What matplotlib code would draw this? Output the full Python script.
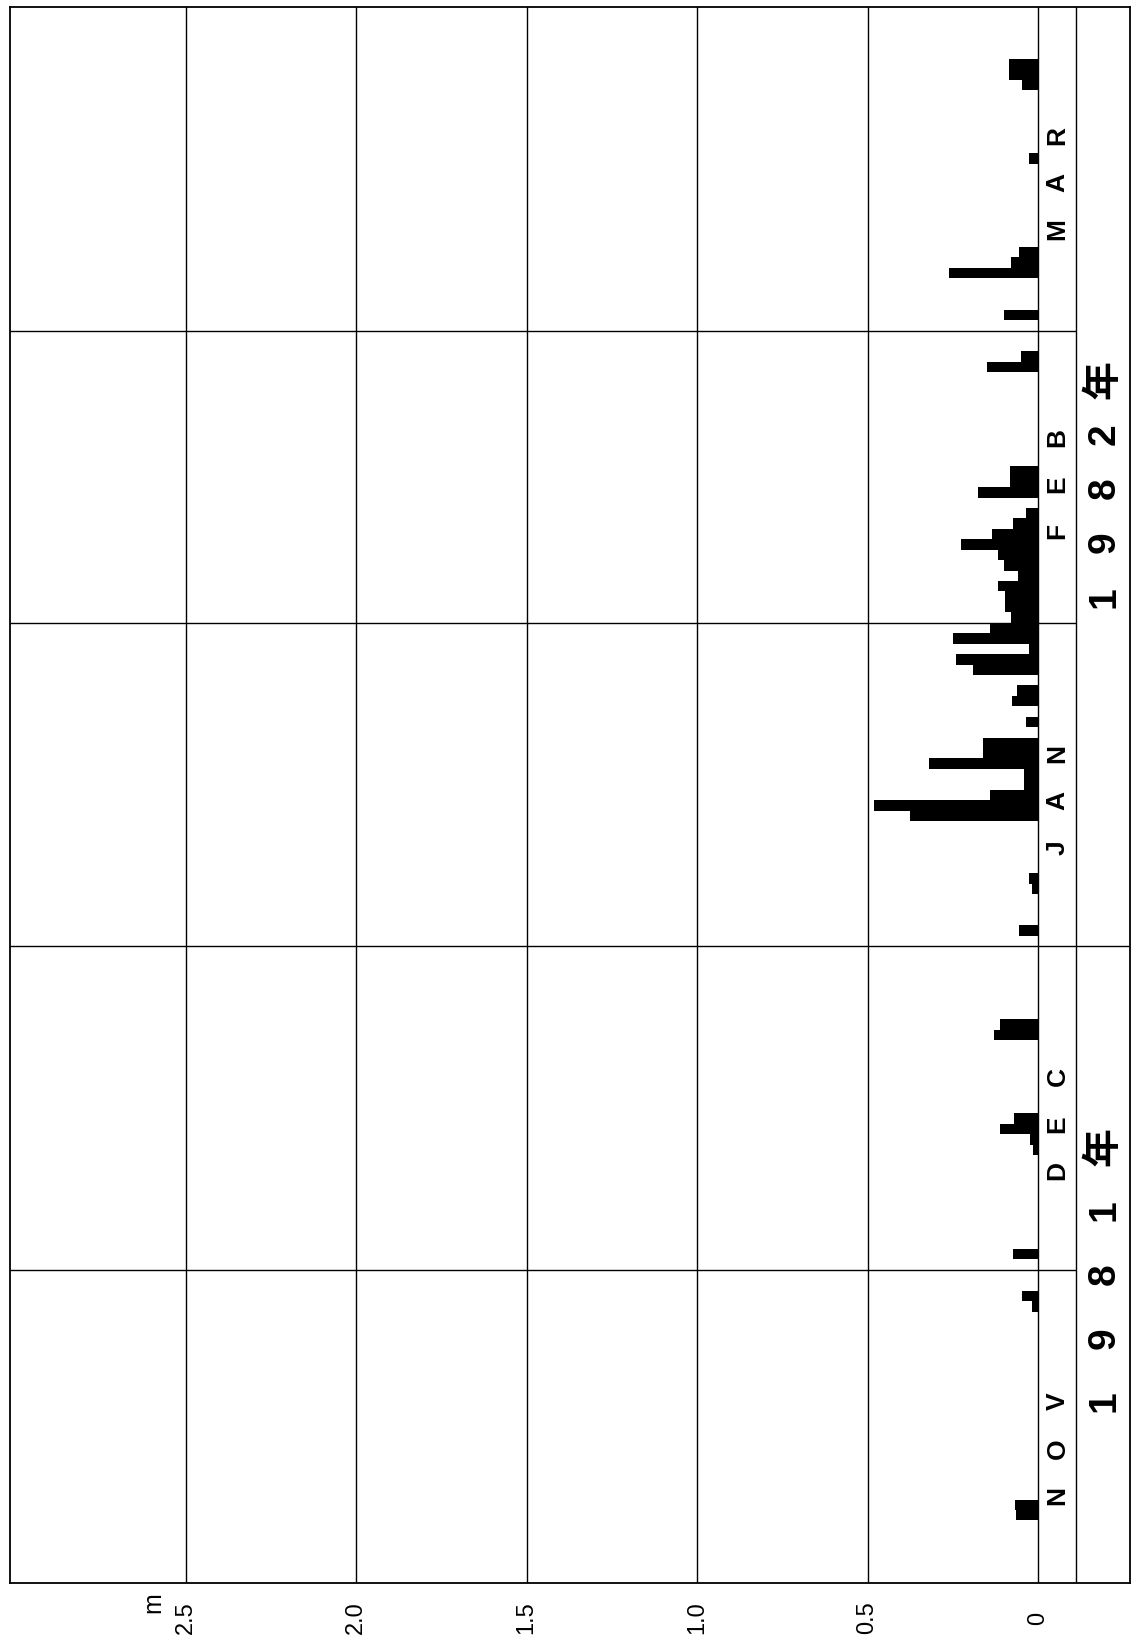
import matplotlib.pyplot as plt

plt.rcParams['font.family'] = ['Liberation Sans', 'Noto Sans CJK JP']

# month lengths, Nov 1981 .. Mar 1982
month_names = ['NOV', 'DEC', 'JAN', 'FEB', 'MAR']
month_len = [30, 31, 31, 28, 31]

# daily snowfall (m), day of month -> value
nov_days = [7, 8, 27, 28]
nov_snow = [0.065, 0.068, 0.017, 0.048]
dec_days = [2, 12, 13, 14, 15, 23, 24]
dec_snow = [0.072, 0.014, 0.024, 0.11, 0.07, 0.13, 0.11]
jan_days = [2, 6, 7, 13, 14, 15, 16, 17, 18, 19, 20, 22, 24, 25, 27, 28, 29, 30, 31]
jan_snow = [0.055, 0.017, 0.026, 0.375, 0.48, 0.14, 0.04, 0.04, 0.32, 0.16, 0.16,
            0.034, 0.075, 0.063, 0.19, 0.24, 0.025, 0.25, 0.14]
feb_days = [1, 2, 3, 4, 5, 6, 7, 8, 9, 10, 11, 13, 14, 15, 25, 26]
feb_snow = [0.078, 0.096, 0.096, 0.117, 0.058, 0.10, 0.117, 0.226, 0.135, 0.073,
            0.034, 0.175, 0.083, 0.083, 0.15, 0.05]
mar_days = [2, 6, 7, 8, 17, 24, 25, 26]
mar_snow = [0.10, 0.26, 0.08, 0.055, 0.025, 0.047, 0.085, 0.085]

ticks = [0, 0.5, 1.0, 1.5, 2.0, 2.5]
tick_labels = ['0', '0.5', '1.0', '1.5', '2.0', '2.5']
year_1981 = ['1', '9', '8', '1', '年']
year_1982 = ['1', '9', '8', '2', '年']

starts = [sum(month_len[:i]) for i in range(len(month_len))]
total = sum(month_len)

fig = plt.figure(figsize=(11.39, 16.48), dpi=100)
ax = fig.add_axes([10/1139, 1 - 1583/1648, 1120/1139, 1576/1648])

x_left, x_right, x_div = 3.016, -0.27, -0.113
ax.set_xlim(x_left, x_right)
ax.set_ylim(0, total)

series = [(nov_days, nov_snow), (dec_days, dec_snow), (jan_days, jan_snow),
          (feb_days, feb_snow), (mar_days, mar_snow)]
for s, (d, v) in zip(starts, series):
    ax.barh([s + k - 1 for k in d], v, height=1, align='edge',
            color='black', edgecolor='none', zorder=3)

for t in ticks:
    ax.axvline(t, color='black', lw=1.0, zorder=2)
ax.axvline(x_div, color='black', lw=1.0, zorder=2)

# month boundaries (only the Dec/Jan one crosses the year strip)
for i, s in enumerate(starts[1:], start=1):
    xr = x_right if month_names[i] == 'JAN' else x_div
    ax.hlines(s, x_left, xr, color='black', lw=1.0, zorder=2)

for sp in ax.spines.values():
    sp.set_linewidth(1.3)
ax.set_xticks([])
ax.set_yticks([])

tr = ax.get_xaxis_transform()
for t, lab in zip(ticks, tick_labels):
    ax.text(t, -0.0222, lab, transform=tr, rotation=90, ha='center',
            va='center', fontsize=17)
ax.text(2.595, -0.0125, 'm', transform=tr, rotation=90, ha='center',
        va='center', fontsize=18)

# month letters in the strip next to the zero line
label_center = [12.9, 44.0, 75.0, 105.3, 134.2]
for name, c in zip(month_names, label_center):
    for j, ch in enumerate(name):
        ax.text(-0.058, c + (j - 1) * 4.5, ch, rotation=90, ha='center',
                va='center', fontsize=19, fontweight='bold')

# year strip
for chars, c, step in [(year_1981, 29.6, 6.1), (year_1982, 104.9, 5.2)]:
    for j, ch in enumerate(chars):
        ax.text(-0.195, c + (j - 2) * step, ch, rotation=90, ha='center',
                va='center', fontsize=28, fontweight='bold')

fig.savefig('out.png', dpi=100)
